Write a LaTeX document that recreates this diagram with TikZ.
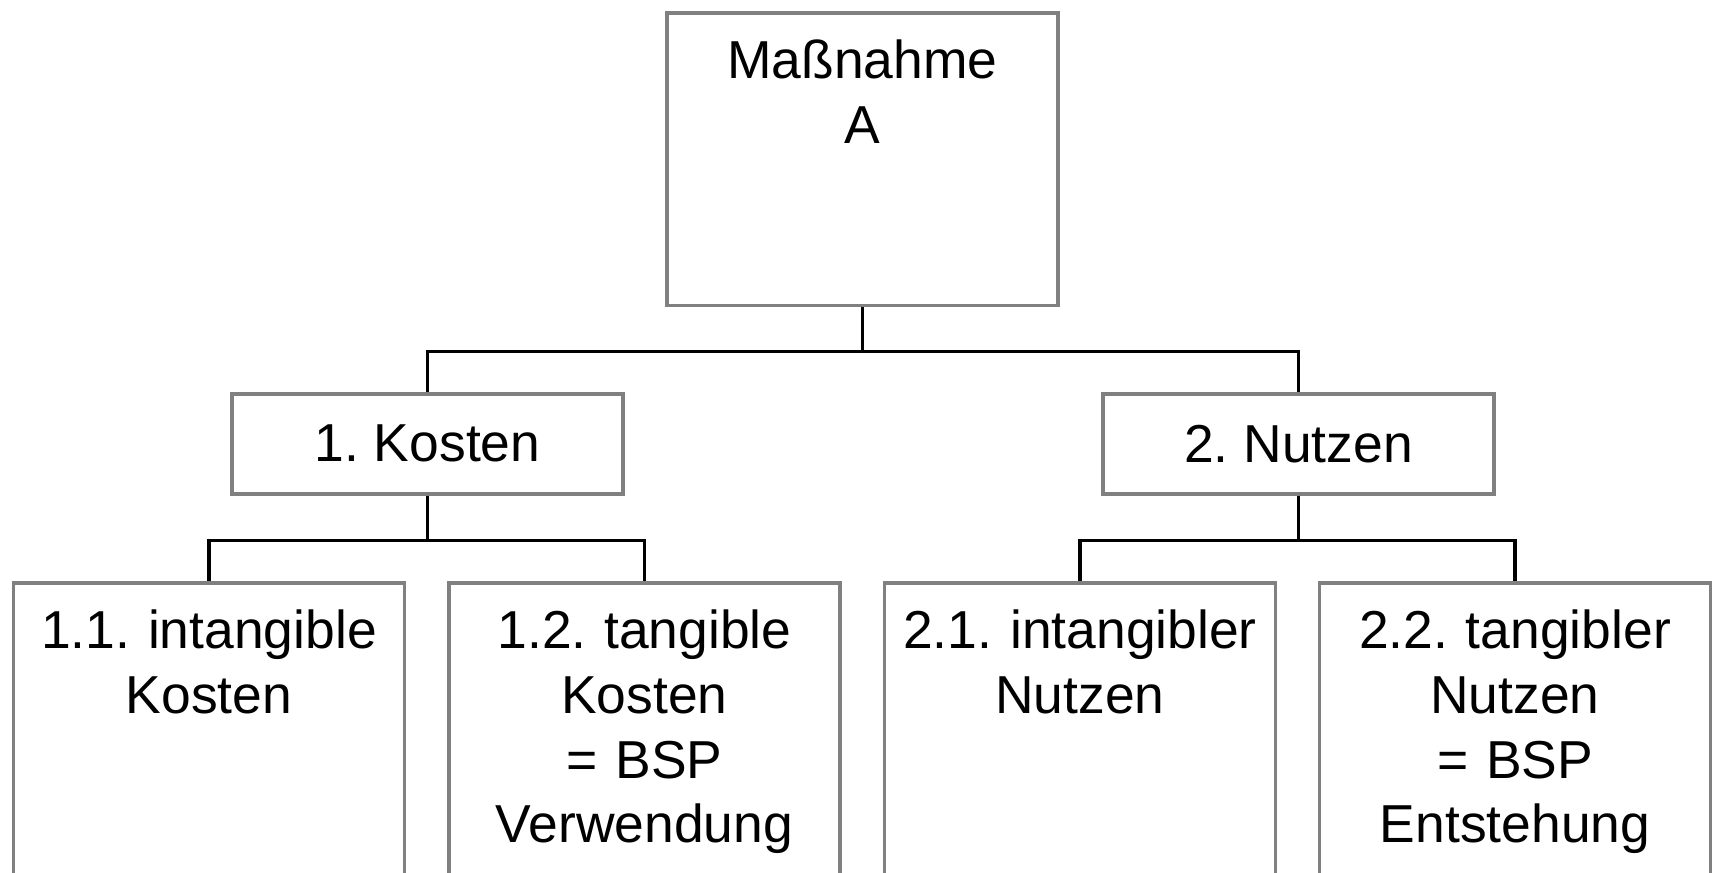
\documentclass[tikz,border=0pt]{standalone}
\usepackage{fontspec}
\setmainfont{Liberation Sans}
\usepackage{tikz}
\frenchspacing
\hyphenpenalty=10000

\begin{document}
\begin{tikzpicture}[
        box/.style={draw=gray, line width=1pt, anchor=north, minimum width=3.91cm, font=\fontsize{15.2}{18.4}\selectfont},
        tallbox/.style={box, align=center, text width=3.75cm, inner xsep=0.08cm, inner ysep=0.26cm, text height=0.4cm},
        link/.style={line width=1.1pt}]
                \clip (0, 0) rectangle (17.19, -8.73);
                \node[tallbox, text depth=2.01cm] (massnahme) at (8.625, -0.11) {Maßnahme\\A};
                \node[box, minimum height=1cm] (kosten) at (4.275, -3.92) {1. Kosten};
                \node[box, minimum height=1cm] (nutzen) at (12.985, -3.92) {2. Nutzen};
                \node[tallbox, text depth=4cm] (kosten1) at (2.09, -5.81) {1.1. intangible\\Kosten};
                \node[tallbox, text depth=4cm] (kosten2) at (6.445, -5.81) {1.2. tangible\\Kosten\\= BSP\\Verwendung};
                \node[tallbox, text depth=4cm] (nutzen1) at (10.80, -5.81) {2.1. intangibler\\Nutzen};
                \node[tallbox, text depth=4cm] (nutzen2) at (15.15, -5.81) {2.2. tangibler\\Nutzen\\= BSP\\Entstehung};
                \draw[link] (massnahme.south) -- ++(0, -0.44) -| (kosten.north);
                \draw[link] (massnahme.south) -- ++(0, -0.44) -| (nutzen.north);
                \draw[link] (kosten.south) -- ++(0, -0.45) -| (kosten1.north);
                \draw[link] (kosten.south) -- ++(0, -0.45) -| (kosten2.north);
                \draw[link] (nutzen.south) -- ++(0, -0.45) -| (nutzen1.north);
                \draw[link] (nutzen.south) -- ++(0, -0.45) -| (nutzen2.north);
            \end{tikzpicture}
\end{document}
